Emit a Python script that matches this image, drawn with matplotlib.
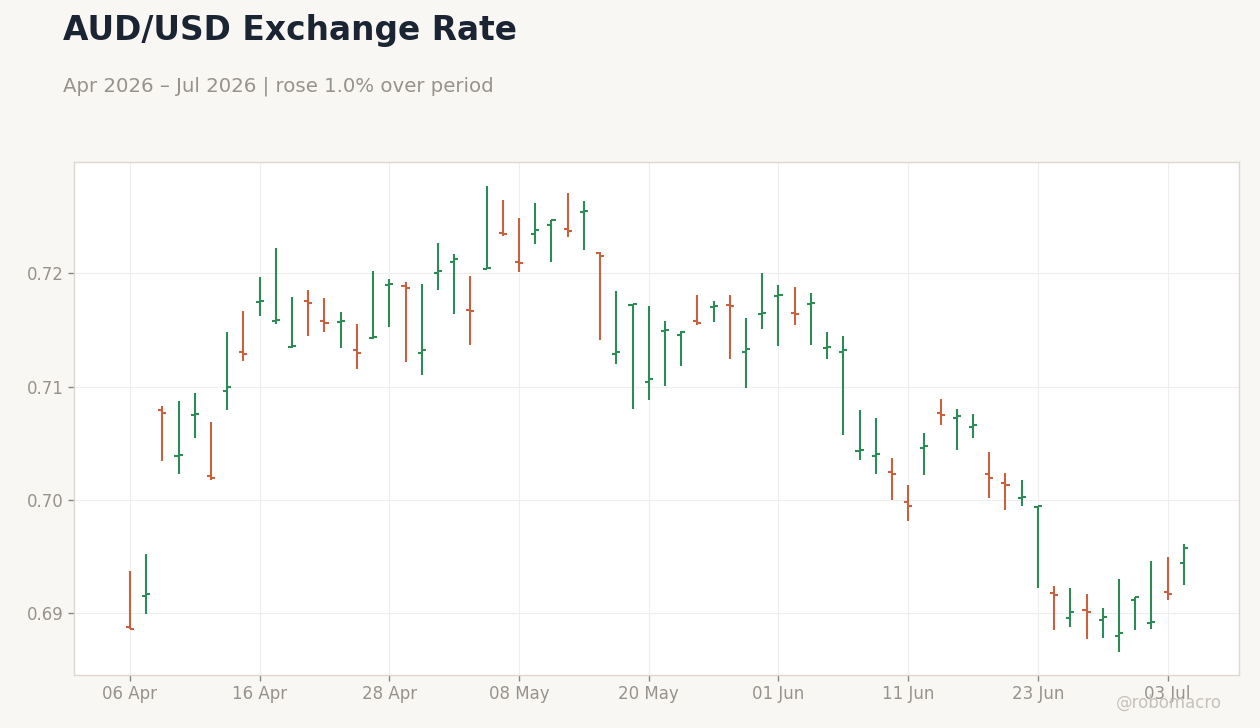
"""
    AUD/USD daily OHLC chart
"""

import pandas as pd
from matplotlib import pyplot as plt

START = "2026-04-06"

opens = [0.6888, 0.6915, 0.7079, 0.7039, 0.7075, 0.7021, 0.7096, 0.7131, 0.7175, 0.7158,
         0.7135, 0.7176, 0.7158, 0.7157, 0.7132, 0.7143, 0.7190, 0.7189, 0.7130, 0.7200,
         0.7210, 0.7168, 0.7204, 0.7236, 0.7210, 0.7235, 0.7243, 0.7239, 0.7254, 0.7218,
         0.7129, 0.7172, 0.7104, 0.7149, 0.7146, 0.7158, 0.7170, 0.7172, 0.7131, 0.7164,
         0.7180, 0.7165, 0.7173, 0.7134, 0.7131, 0.7043, 0.7039, 0.7025, 0.6998, 0.7046,
         0.7077, 0.7072, 0.7064, 0.7023, 0.7015, 0.7002, 0.6994, 0.6918, 0.6896, 0.6903,
         0.6894, 0.6880, 0.6912, 0.6891, 0.6919, 0.6944]
highs = [0.6937, 0.6952, 0.7083, 0.7087, 0.7094, 0.7069, 0.7148, 0.7167, 0.7197, 0.7222,
         0.7179, 0.7185, 0.7178, 0.7166, 0.7155, 0.7202, 0.7195, 0.7192, 0.7191, 0.7227,
         0.7217, 0.7198, 0.7277, 0.7265, 0.7249, 0.7262, 0.7247, 0.7271, 0.7264, 0.7219,
         0.7184, 0.7173, 0.7171, 0.7158, 0.7149, 0.7181, 0.7176, 0.7181, 0.7161, 0.7200,
         0.7190, 0.7188, 0.7183, 0.7148, 0.7145, 0.7079, 0.7072, 0.7037, 0.7013, 0.7059,
         0.7089, 0.7080, 0.7076, 0.7042, 0.7024, 0.7018, 0.6995, 0.6924, 0.6922, 0.6917,
         0.6905, 0.6930, 0.6914, 0.6946, 0.6950, 0.6961]
lows = [0.6886, 0.6899, 0.7034, 0.7023, 0.7055, 0.7018, 0.7079, 0.7123, 0.7162, 0.7155,
        0.7134, 0.7145, 0.7148, 0.7134, 0.7116, 0.7142, 0.7153, 0.7122, 0.7110, 0.7185,
        0.7164, 0.7137, 0.7204, 0.7233, 0.7201, 0.7226, 0.7210, 0.7232, 0.7221, 0.7141,
        0.7120, 0.7080, 0.7088, 0.7101, 0.7118, 0.7154, 0.7157, 0.7124, 0.7099, 0.7151,
        0.7136, 0.7154, 0.7137, 0.7124, 0.7057, 0.7035, 0.7023, 0.7000, 0.6981, 0.7022,
        0.7066, 0.7044, 0.7055, 0.7002, 0.6991, 0.6995, 0.6922, 0.6885, 0.6888, 0.6877,
        0.6878, 0.6866, 0.6885, 0.6886, 0.6912, 0.6925]
closes = [0.6886, 0.6917, 0.7077, 0.7040, 0.7076, 0.7019, 0.7100, 0.7129, 0.7176, 0.7159,
          0.7136, 0.7174, 0.7156, 0.7158, 0.7130, 0.7144, 0.7191, 0.7187, 0.7132, 0.7202,
          0.7213, 0.7167, 0.7205, 0.7235, 0.7209, 0.7238, 0.7247, 0.7237, 0.7255, 0.7215,
          0.7131, 0.7173, 0.7107, 0.7150, 0.7148, 0.7156, 0.7171, 0.7171, 0.7133, 0.7165,
          0.7181, 0.7164, 0.7174, 0.7135, 0.7132, 0.7044, 0.7041, 0.7023, 0.6995, 0.7048,
          0.7075, 0.7074, 0.7066, 0.7019, 0.7013, 0.7003, 0.6995, 0.6916, 0.6901, 0.6901,
          0.6897, 0.6883, 0.6914, 0.6892, 0.6917, 0.6958]

yticks = [0.69, 0.70, 0.71, 0.72]

UP = "#2e8b57"
DOWN = "#c9603f"
TEXT = "#98928c"

dates = pd.bdate_range(START, periods=len(opens))
xs = list(range(len(opens)))

fig = plt.figure(figsize=(12.6, 7.28), dpi=100, facecolor="#f9f7f4")
ax = fig.add_axes([0.0587, 0.0728, 0.9246, 0.7047])
ax.set_facecolor("white")

colors = [UP if c >= o else DOWN for o, c in zip(opens, closes)]
tick = 0.25
ax.vlines(xs, lows, highs, colors=colors, linewidth=1.5, zorder=3)
ax.hlines(opens, [x - tick for x in xs], xs, colors=colors, linewidth=1.5, zorder=3)
ax.hlines(closes, xs, [x + tick for x in xs], colors=colors, linewidth=1.5, zorder=3)

ax.set_xlim(-3.45, 68.4)
ax.set_ylim(0.68455, 0.72983)

xt = xs[::8]
ax.set_xticks(xt)
ax.set_xticklabels([dates[i].strftime("%d %b") for i in xt])
ax.set_yticks(yticks)
ax.set_yticklabels([f"{v:.2f}" for v in yticks])

ax.grid(True, color="#eeeeee", linewidth=0.8, zorder=0)
ax.set_axisbelow(True)
for s in ax.spines.values():
    s.set_color("#ddd8d0")
    s.set_linewidth(1.0)
ax.tick_params(colors="#8a8580", labelcolor=TEXT, labelsize=12, length=4, width=1)

fig.text(0.05, 0.981, "AUD/USD Exchange Rate", fontsize=23.7, fontweight="bold",
         color="#1b2433", va="top")
fig.text(0.05, 0.895, "Apr 2026 \u2013 Jul 2026 | rose 1.0% over period", fontsize=14.2,
         color=TEXT, va="top")
fig.text(0.97, 0.022, "@robomacro", fontsize=12, color="#c5c1bc", ha="right", va="bottom")

plt.savefig("out.png", dpi=100, facecolor=fig.get_facecolor())
